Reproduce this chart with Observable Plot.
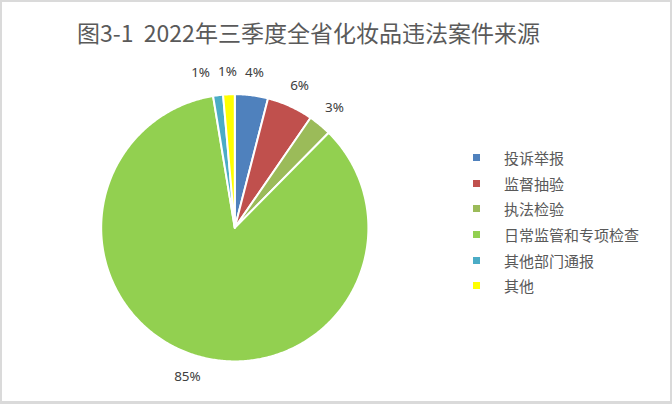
<!DOCTYPE html>
<html>
<head>
<meta charset="utf-8">
<script src="https://cdn.jsdelivr.net/npm/d3@7"></script>
<script src="https://cdn.jsdelivr.net/npm/@observablehq/plot@0.6"></script>
<style>
  html, body { margin: 0; padding: 0; background: #fff; }
  #wrap { position: relative; width: 672px; height: 404px; box-sizing: border-box;
          border: 2px solid #dadada; border-bottom-width: 3px; background: #fff; overflow: hidden; }
  #chart { position: absolute; left: -2px; top: -2px; }
  #title { position: absolute; left: 75px; top: 13px; white-space: pre;
           font-family: "Noto Sans CJK SC", "Noto Sans", sans-serif; font-size: 23px; color: #5a5a5a; }
  #legend { position: absolute; left: 471px; top: 143px; font-family: "Noto Sans CJK SC", sans-serif;
            font-size: 15px; color: #595959; }
  .item { height: 25.6px; display: flex; align-items: center; }
  .sw { width: 7px; height: 7px; margin-right: 24px; }
</style>
</head>
<body>
<div id="wrap">
  <div id="chart"></div>
  <div id="title"></div>
  <div id="legend"></div>
</div>
<script>
const title = "图3-1  2022年三季度全省化妆品违法案件来源";
const categories = ["投诉举报", "监督抽验", "执法检验", "日常监管和专项检查", "其他部门通报", "其他"];
const values = [4.0, 5.6, 2.8, 85.0, 1.2, 1.4];
const colors = ["#4F81BD", "#C0504D", "#9BBB59", "#92D050", "#4BACC6", "#FFFF00"];

document.getElementById("title").textContent = title;

const W = 672, H = 404, cx = 235, cy = 228, R = 134;

const total = d3.sum(values);
const pie = d3.pie().sort(null).value(d => d.value)(categories.map((c, i) => ({cat: c, value: values[i]})));

// polygon points for each slice (data units; radius = 1)
const pts = [];
pie.forEach(s => {
  pts.push({cat: s.data.cat, x: 0, y: 0});
  const n = Math.max(4, Math.ceil((s.endAngle - s.startAngle) / 0.01));
  for (let k = 0; k <= n; k++) {
    const a = s.startAngle + (s.endAngle - s.startAngle) * k / n;
    pts.push({cat: s.data.cat, x: Math.sin(a), y: Math.cos(a)});
  }
});

// labels at mid-angle, outside
const lr = 1.17;
const labels = pie.map(s => {
  const a = (s.startAngle + s.endAngle) / 2;
  return {cat: s.data.cat, x: lr * Math.sin(a), y: lr * Math.cos(a),
          text: Math.round(s.data.value / total * 100) + "%"};
});
// simple overlap avoidance: push overlapping labels apart horizontally
const minDx = 27 / R;
for (let iter = 0; iter < 5; iter++) {
  const srt = [...labels].sort((a, b) => a.x - b.x);
  for (let i = 1; i < srt.length; i++) {
    const p = srt[i - 1], q = srt[i];
    if (Math.abs(p.y - q.y) < 14 / R && q.x - p.x < minDx) p.x = q.x - minDx;
  }
}

const chart = Plot.plot({
  width: W, height: H,
  margin: 0,
  x: {domain: [-cx / R, (W - cx) / R], axis: null},
  y: {domain: [-(H - cy) / R, cy / R], axis: null},
  color: {domain: categories, range: colors},
  style: {background: "transparent"},
  marks: [
    Plot.line(pts, {x: "x", y: "y", z: "cat", fill: "cat", stroke: "#fff", strokeWidth: 2,
                    curve: "linear-closed"}),
    Plot.text(labels, {x: "x", y: "y", text: "text", fill: "#404040", fontSize: 13.5,
                       fontFamily: "'Noto Sans', sans-serif"})
  ]
});
document.getElementById("chart").appendChild(chart);

const lg = document.getElementById("legend");
categories.forEach((c, i) => {
  const d = document.createElement("div");
  d.className = "item";
  d.innerHTML = `<span class="sw" style="background:${colors[i]}"></span><span></span>`;
  d.lastChild.textContent = c;
  lg.appendChild(d);
});
</script>
</body>
</html>
